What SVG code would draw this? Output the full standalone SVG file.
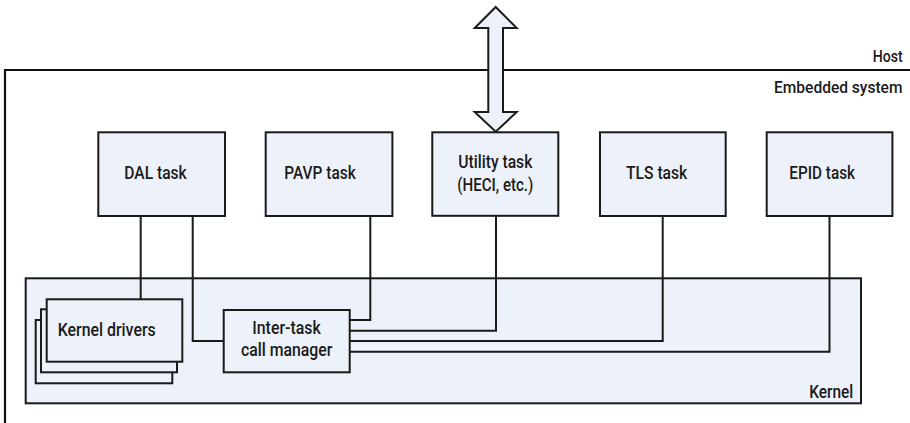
<svg xmlns="http://www.w3.org/2000/svg" width="910" height="423" viewBox="0 0 910 423">
  <style>
    text { font-family: Roboto, "Liberation Sans", Arial, sans-serif; font-weight: 500; font-size: 18.5px; fill: #1a1a1a; }
    .sm { font-size: 16.5px; }
    .md { font-size: 17.5px; }
    .box { fill: #edf2fa; stroke: #1a1a1a; stroke-width: 2; }
    .frame { fill: none; stroke: #111; stroke-width: 2.2; }
    .wire { fill: none; stroke: #1a1a1a; stroke-width: 2; }
  </style>

  <rect width="910" height="423" fill="#ffffff"/>

  <!-- Host / embedded system boundary -->
  <g id="host-boundary">
    <path class="frame" d="M5 423 V70 H912"/>
    <text class="sm" x="872.7" y="61.5" textLength="30" lengthAdjust="spacingAndGlyphs">Host</text>
    <text class="sm" x="774" y="93" textLength="128.5" lengthAdjust="spacingAndGlyphs">Embedded system</text>
  </g>

  <!-- Kernel area -->
  <g id="kernel">
    <rect class="box" x="25.7" y="278.3" width="835.3" height="125" stroke-width="2.2"/>
    <text class="md" x="809.3" y="398" textLength="44" lengthAdjust="spacingAndGlyphs">Kernel</text>
  </g>

  <!-- Host interface arrow -->
  <g id="host-arrow">
    <path d="M495.7 7 L516.7 28 L503 28 L503 112 L516.7 112 L495.7 131.7 L474.7 112 L488.3 112 L488.3 28 L474.7 28 Z" fill="#edf2fa" stroke="#1a1a1a" stroke-width="2" stroke-linejoin="miter"/>
  </g>

  <!-- Connectors -->
  <g id="connectors">
    <path class="wire" d="M140.7 216 V299.3"/>
    <path class="wire" d="M192.7 216 V341 H223.7"/>
    <path class="wire" d="M370.3 216 V320 H349.7"/>
    <path class="wire" d="M496 216 V330.7 H349.7"/>
    <path class="wire" d="M662.7 216 V341 H349.7"/>
    <path class="wire" d="M829.5 216 V351.7 H349.7"/>
  </g>

  <!-- Task nodes -->
  <g id="dal-task">
    <rect class="box" x="98.3" y="132.3" width="126.7" height="83.7"/>
    <text x="124.3" y="179" textLength="62.4" lengthAdjust="spacingAndGlyphs">DAL task</text>
  </g>
  <g id="pavp-task">
    <rect class="box" x="265.7" y="132.3" width="126.7" height="83.7"/>
    <text x="284.3" y="179" textLength="71.4" lengthAdjust="spacingAndGlyphs">PAVP task</text>
  </g>
  <g id="utility-task">
    <rect class="box" x="432.3" y="132.3" width="126" height="83.5"/>
    <text class="md" x="458.3" y="167.7" textLength="74" lengthAdjust="spacingAndGlyphs">Utility task</text>
    <text class="md" x="457.3" y="191" textLength="76" lengthAdjust="spacingAndGlyphs">(HECI, etc.)</text>
  </g>
  <g id="tls-task">
    <rect class="box" x="600" y="132.3" width="125.7" height="83.7"/>
    <text x="626" y="179" textLength="61.3" lengthAdjust="spacingAndGlyphs">TLS task</text>
  </g>
  <g id="epid-task">
    <rect class="box" x="766.7" y="132.3" width="125.7" height="83.7"/>
    <text x="789.3" y="179" textLength="65.7" lengthAdjust="spacingAndGlyphs">EPID task</text>
  </g>

  <!-- Kernel drivers (stacked) -->
  <g id="kernel-drivers">
    <rect class="box" x="35.7" y="320" width="136.6" height="63.3"/>
    <rect class="box" x="41" y="309.3" width="136" height="63"/>
    <rect class="box" x="46.7" y="299.3" width="135.6" height="62.4"/>
    <text class="md" x="57.7" y="335.7" textLength="98" lengthAdjust="spacingAndGlyphs">Kernel drivers</text>
  </g>

  <!-- Inter-task call manager -->
  <g id="call-manager">
    <rect class="box" x="223.7" y="310" width="126" height="62.3"/>
    <text class="md" x="252.3" y="334.3" textLength="68.4" lengthAdjust="spacingAndGlyphs">Inter-task</text>
    <text class="md" x="241" y="356" textLength="91.3" lengthAdjust="spacingAndGlyphs">call manager</text>
  </g>
</svg>
